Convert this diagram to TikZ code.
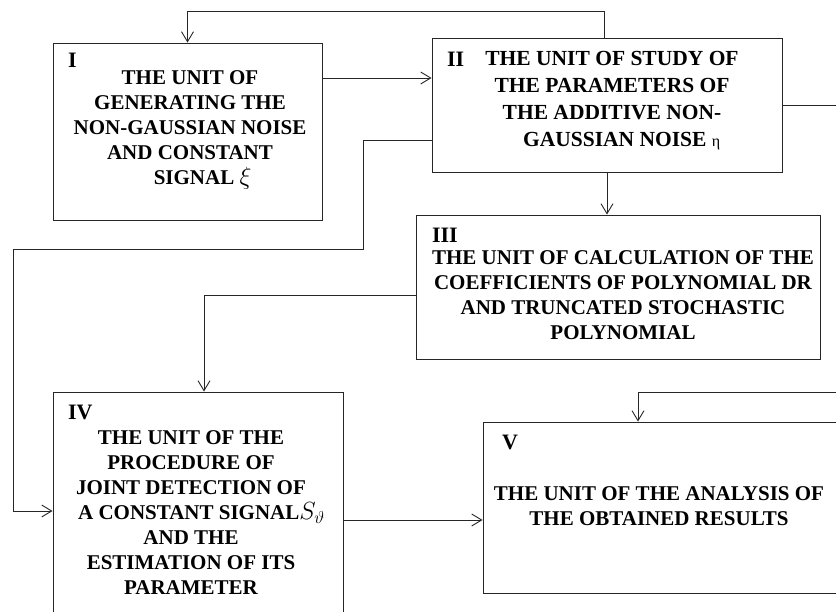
\documentclass[tikz,border=0pt]{standalone}
\usepackage{fontspec}
\setmainfont{Liberation Serif}
\usetikzlibrary{calc,positioning,arrows.meta}
\begin{document}
\begin{tikzpicture}[x=1pt, y=-1pt, line width=0.9pt, >={Straight Barb[length=10pt,width=12pt]}]
\tikzstyle{unit}=[draw=black!85, rectangle, inner sep=0pt]
\tikzstyle{txt}=[align=center, inner sep=0pt, font=\fontsize{21}{25}\selectfont\bfseries]
\tikzstyle{num}=[anchor=north west, inner sep=0pt, font=\fontsize{22}{22}\selectfont\bfseries]
\tikzstyle{wire}=[draw=black!85]
\useasboundingbox (0,0) rectangle (836,612);
\clip (0,0) rectangle (836,612);
% blocks
\node[unit, minimum width=269, minimum height=177] (u1) at (187.5,131.5) {};
\node[unit, minimum width=350, minimum height=134] (u2) at (607,105) {};
\node[unit, minimum width=404, minimum height=144] (u3) at (618,287) {};
\node[unit, minimum width=290, minimum height=238] (u4) at (198,511) {};
\node[unit, minimum width=367, minimum height=171] (u5) at (666.5,507.5) {};
% numbers
\node[num] (n1) at ([shift={(15pt,-10pt)}]u1.north west) {I};
\node[num] (n2) at ([shift={(15pt,-14pt)}]u2.north west) {II};
\node[num] (n3) at ([shift={(16pt,-13pt)}]u3.north west) {III};
\node[num] (n4) at ([shift={(15pt,-13pt)}]u4.north west) {IV};
\node[num] (n5) at ([shift={(19pt,-13pt)}]u5.north west) {V};
% texts
\node[txt] (t1) at (190,130) {THE UNIT OF\\GENERATING THE\\NON-GAUSSIAN NOISE\\AND CONSTANT\\\hspace{1.2em}SIGNAL {\fontsize{25}{25}\selectfont$\xi$}};
\node[txt, font=\fontsize{21.5}{27}\selectfont\bfseries] (t2) at (612,101) {THE UNIT OF STUDY OF\\THE PARAMETERS OF\\THE ADDITIVE NON-\\\hspace{0.9em}GAUSSIAN NOISE {\mdseries\fontsize{16}{16}\selectfont η}};
\node[txt] (t3) at (623,295) {THE UNIT OF CALCULATION OF THE\\COEFFICIENTS OF POLYNOMIAL DR\\AND TRUNCATED STOCHASTIC\\POLYNOMIAL};
\node[txt] (t4) at (191,513) {THE UNIT OF THE\\PROCEDURE OF\\JOINT DETECTION OF\\\hspace{1em}A CONSTANT SIGNAL{\fontsize{25}{25}\selectfont$S_\vartheta$}\\AND THE\\ESTIMATION OF ITS\\PARAMETER};
\node[txt] (t5) at (659,506) {THE UNIT OF THE ANALYSIS OF\\THE OBTAINED RESULTS};
% off-picture turning points
\coordinate (topy) at (0,11);
\coordinate (bendA) at (363,249);
\coordinate (bendB) at (13,249);
\coordinate (rb1) at (846,105);
\coordinate (rb2) at (846,392);
% links
\draw[wire,->] ([xshift=-3pt]u2.north) |- (topy -| u1.north) -- (u1.north);
\draw[wire,->] ([yshift=53.5pt]u1.east) -- ([yshift=53.5pt]u1.east -| u2.west);
\draw[wire,->] ([yshift=-35pt]u2.west) -| (bendA) -- (bendB) |- (u4.west);
\draw[wire,->] (u2.south) -- (u2.south |- u3.north);
\draw[wire,->] ([yshift=-8pt]u3.west) -| ([xshift=6pt]u4.north);
\draw[wire,->] ([yshift=-9pt]u4.east) -- ([yshift=-9pt]u4.east -| u5.west);
\draw[wire,->] (u2.east) -- (rb1) -- (rb2) -| ([xshift=-28.5pt]u5.north);
\end{tikzpicture}
\end{document}
